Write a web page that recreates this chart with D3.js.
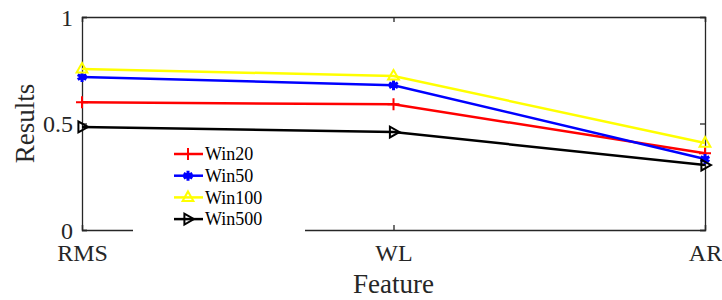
<!DOCTYPE html>
<html lang="en">
<head>
    <meta charset="UTF-8">
    <title>Results by feature</title>
    <script src="https://d3js.org/d3.v7.min.js"></script>
    <style>
        body { margin: 0; background: #fff; }
    </style>
</head>
<body>
    <script>
        const features = ["RMS", "WL", "AR"];
        const win20 = [0.600, 0.590, 0.360];
        const win50 = [0.718, 0.680, 0.333];
        const win100 = [0.756, 0.723, 0.408];
        const win500 = [0.484, 0.460, 0.305];
        const seriesNames = ["Win20", "Win50", "Win100", "Win500"];
        const yTicks = [0, 0.5, 1];

        const w = 722;
        const h = 300;
        const padL = 82, padR = 705, padT = 17, padB = 230;
        const serif = "Liberation Serif, Times New Roman, DejaVu Serif, serif";

        const series = [
            { name: "Win20", values: win20, color: "#ff0000", marker: "plus" },
            { name: "Win50", values: win50, color: "#0000ff", marker: "star" },
            { name: "Win100", values: win100, color: "#ffff00", marker: "triUp" },
            { name: "Win500", values: win500, color: "#000000", marker: "triRight" }
        ];

        const xScale = d3.scalePoint()
            .domain(features)
            .range([padL, padR]);

        const yScale = d3.scaleLinear()
            .domain([0, 1])
            .range([padB, padT]);

        const svg = d3.select("body")
            .append("svg")
            .attr("width", w)
            .attr("height", h)
            .attr("font-family", serif);

        // box with inward ticks
        const axisColor = "#262626";
        const xAxis = d3.axisBottom(xScale).tickSize(-5).tickPadding(13);
        const yAxis = d3.axisLeft(yScale).tickValues(yTicks).tickSize(-5).tickPadding(9)
            .tickFormat(d3.format("~g"));

        const gx = svg.append("g")
            .attr("transform", "translate(0," + padB + ")")
            .call(xAxis);
        const gy = svg.append("g")
            .attr("transform", "translate(" + padL + ",0)")
            .call(yAxis);

        svg.append("g")
            .attr("transform", "translate(0," + padT + ")")
            .call(d3.axisTop(xScale).tickSize(-5).tickFormat(""));
        svg.append("g")
            .attr("transform", "translate(" + padR + ",0)")
            .call(d3.axisRight(yScale).tickValues(yTicks).tickSize(-5).tickFormat(""));

        svg.selectAll("g").attr("font-family", serif);
        svg.selectAll(".domain")
            .attr("stroke", axisColor)
            .attr("stroke-width", 1.3);
        svg.selectAll(".tick line")
            .attr("stroke", axisColor)
            .attr("stroke-width", 1.3);
        svg.selectAll(".tick text")
            .attr("font-size", 24)
            .attr("font-family", serif)
            .attr("fill", axisColor);
        gx.selectAll(".tick text").attr("dy", "0.75em");
        gy.selectAll(".tick text").attr("dy", "0.35em");

        // axis titles
        svg.append("text")
            .attr("x", (padL + padR) / 2)
            .attr("y", 293)
            .attr("text-anchor", "middle")
            .attr("font-family", serif)
            .attr("font-size", 27)
            .attr("fill", axisColor)
            .text("Feature");
        svg.append("text")
            .attr("transform", "translate(34," + yScale(0.5) + ") rotate(-90)")
            .attr("text-anchor", "middle")
            .attr("font-family", serif)
            .attr("font-size", 27)
            .attr("fill", axisColor)
            .text("Results");

        function drawMarker(g, type, color, s) {
            if (type === "plus") {
                g.append("path")
                    .attr("d", "M" + (-s) + ",0H" + s + "M0," + (-s) + "V" + s)
                    .attr("stroke", color).attr("stroke-width", 2).attr("fill", "none");
            } else if (type === "star") {
                const r = s * 0.8;
                g.append("path")
                    .attr("d", d3.symbol(d3.symbolAsterisk, r * r * 3)())
                    .attr("stroke", color).attr("stroke-width", 3).attr("fill", "none");
                g.append("circle").attr("r", r * 0.6).attr("fill", color);
            } else if (type === "triUp") {
                g.append("path")
                    .attr("d", "M0," + (-s) + "L" + (s * 0.9) + "," + (s * 0.6) + "L" + (-s * 0.9) + "," + (s * 0.6) + "Z")
                    .attr("stroke", color).attr("stroke-width", 2).attr("fill", "none");
            } else {
                g.append("path")
                    .attr("d", "M" + s + ",0L" + (-s * 0.6) + "," + (-s * 0.9) + "L" + (-s * 0.6) + "," + (s * 0.9) + "Z")
                    .attr("stroke", color).attr("stroke-width", 2).attr("fill", "none");
            }
        }

        const line = d3.line()
            .x((d, i) => xScale(features[i]))
            .y((d) => yScale(d));

        series.forEach((s) => {
            svg.append("path")
                .datum(s.values)
                .attr("d", line)
                .attr("fill", "none")
                .attr("stroke", s.color)
                .attr("stroke-width", 2.5);
            s.values.forEach((v, i) => {
                const g = svg.append("g")
                    .attr("transform", "translate(" + xScale(features[i]) + "," + yScale(v) + ")");
                drawMarker(g, s.marker, s.color, 6);
            });
        });

        // legend
        const legend = svg.append("g");
        legend.append("rect")
            .attr("x", 133).attr("y", 140)
            .attr("width", 172).attr("height", 96)
            .attr("fill", "#fff");
        seriesNames.forEach((name, i) => {
            const s = series[i];
            const y = 154 + i * 21.7;
            legend.append("line")
                .attr("x1", 174).attr("x2", 203)
                .attr("y1", y).attr("y2", y)
                .attr("stroke", s.color).attr("stroke-width", 2.5);
            drawMarker(legend.append("g").attr("transform", "translate(188," + y + ")"), s.marker, s.color, 6);
            legend.append("text")
                .attr("x", 205).attr("y", y)
                .attr("dy", "0.35em")
                .attr("font-family", serif)
                .attr("font-size", 18)
                .attr("fill", "#000")
                .text(name);
        });
    </script>
</body>
</html>
